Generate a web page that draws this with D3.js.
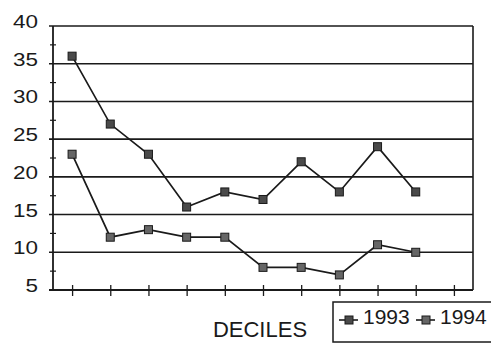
<!DOCTYPE html>
<html>
<head>
<meta charset="utf-8">
<script src="https://cdn.jsdelivr.net/npm/d3@7"></script>
<style>
  body { margin: 0; background: #fff; }
  svg { display: block; font-family: "Liberation Sans", Arial, sans-serif; }
</style>
</head>
<body>
<script>
  // data
  const deciles = [1, 2, 3, 4, 5, 6, 7, 8, 9, 10];
  const s1993 = [36, 27, 23, 16, 18, 17, 22, 18, 24, 18];
  const s1994 = [23, 12, 13, 12, 12, 8, 8, 7, 11, 10];
  const yTicks = [5, 10, 15, 20, 25, 30, 35, 40];
  const xTicks = [1, 2, 3, 4, 5, 6, 7, 8, 9, 10, 11];
  const seriesNames = ["1993", "1994"];

  const W = 491, H = 343;
  const margin = { top: 26, right: 18, bottom: 53, left: 53 };
  const width = W - margin.left - margin.right;
  const height = H - margin.top - margin.bottom;

  const svg = d3.select("body").append("svg")
    .attr("width", W)
    .attr("height", H);

  const g = svg.append("g")
    .attr("transform", "translate(" + margin.left + "," + margin.top + ")");

  const x = d3.scaleLinear().domain([0.5, 11.5]).range([0, width]);
  const y = d3.scaleLinear().domain([5, 40]).range([height, 0]);

  const ink = "#1a1a1a";

  // horizontal gridlines
  g.append("g")
    .selectAll("line")
    .data(yTicks)
    .join("line")
    .attr("x1", -4)
    .attr("x2", width)
    .attr("y1", d => y(d))
    .attr("y2", d => y(d))
    .attr("stroke", ink)
    .attr("stroke-width", 1.6);

  // minor ticks on y axis
  g.append("g")
    .selectAll("line")
    .data(yTicks.slice(0, -1).map(d => d + 2.5))
    .join("line")
    .attr("x1", -3)
    .attr("x2", 3)
    .attr("y1", d => y(d))
    .attr("y2", d => y(d))
    .attr("stroke", ink)
    .attr("stroke-width", 1.2);

  // y axis line and right border
  g.append("line")
    .attr("x1", 0).attr("x2", 0)
    .attr("y1", 0).attr("y2", height)
    .attr("stroke", ink).attr("stroke-width", 1.8);
  g.append("line")
    .attr("x1", width).attr("x2", width)
    .attr("y1", 0).attr("y2", height)
    .attr("stroke", ink).attr("stroke-width", 1.6);

  // y labels, a bit wide like the scan
  g.append("g")
    .selectAll("text")
    .data(yTicks)
    .join("text")
    .attr("x", -15)
    .attr("y", d => y(d) + 2)
    .attr("text-anchor", "end")
    .attr("font-size", 18)
    .attr("textLength", d => String(d).length * 12.5)
    .attr("lengthAdjust", "spacingAndGlyphs")
    .attr("fill", ink)
    .text(d => d);

  // x axis with crossing ticks
  const xAxis = g.append("g")
    .attr("transform", "translate(0," + height + ")")
    .call(d3.axisBottom(x).tickValues(xTicks).tickSize(6).tickFormat(""));
  xAxis.select(".domain")
    .attr("d", "M-4,0H" + width)
    .attr("stroke", ink)
    .attr("stroke-width", 1.8);
  xAxis.selectAll(".tick line")
    .attr("y1", -5)
    .attr("y2", 6)
    .attr("stroke", ink)
    .attr("stroke-width", 1.3);

  // x title
  svg.append("text")
    .attr("x", 260)
    .attr("y", 337)
    .attr("text-anchor", "middle")
    .attr("font-size", 22)
    .attr("fill", ink)
    .text("DECILES");

  const line = d3.line()
    .x((d, i) => x(deciles[i]))
    .y(d => y(d));

  const markerFill = ["#4a4a4a", "#666"];

  [s1993, s1994].forEach((data, k) => {
    g.append("path")
      .datum(data)
      .attr("fill", "none")
      .attr("stroke", ink)
      .attr("stroke-width", 1.7)
      .attr("d", line);

    g.append("g")
      .selectAll("rect")
      .data(data)
      .join("rect")
      .attr("x", (d, i) => x(deciles[i]) - 4)
      .attr("y", d => y(d) - 4)
      .attr("width", 8)
      .attr("height", 8)
      .attr("fill", markerFill[k])
      .attr("stroke", ink)
      .attr("stroke-width", 1);
  });

  // legend
  const legend = svg.append("g");
  legend.append("rect")
    .attr("x", 333)
    .attr("y", 302)
    .attr("width", 170)
    .attr("height", 40)
    .attr("fill", "#fff")
    .attr("stroke", ink)
    .attr("stroke-width", 1.5);

  const legX = [339, 416];
  seriesNames.forEach((name, k) => {
    const lx = legX[k];
    legend.append("line")
      .attr("x1", lx).attr("x2", lx + 19)
      .attr("y1", 320).attr("y2", 320)
      .attr("stroke", ink).attr("stroke-width", 1.6);
    legend.append("rect")
      .attr("x", lx + 6).attr("y", 316)
      .attr("width", 8).attr("height", 8)
      .attr("fill", markerFill[k])
      .attr("stroke", ink).attr("stroke-width", 1);
    legend.append("text")
      .attr("x", lx + 24)
      .attr("y", 324)
      .attr("font-size", 21)
      .attr("fill", ink)
      .text(name);
  });
</script>
</body>
</html>
